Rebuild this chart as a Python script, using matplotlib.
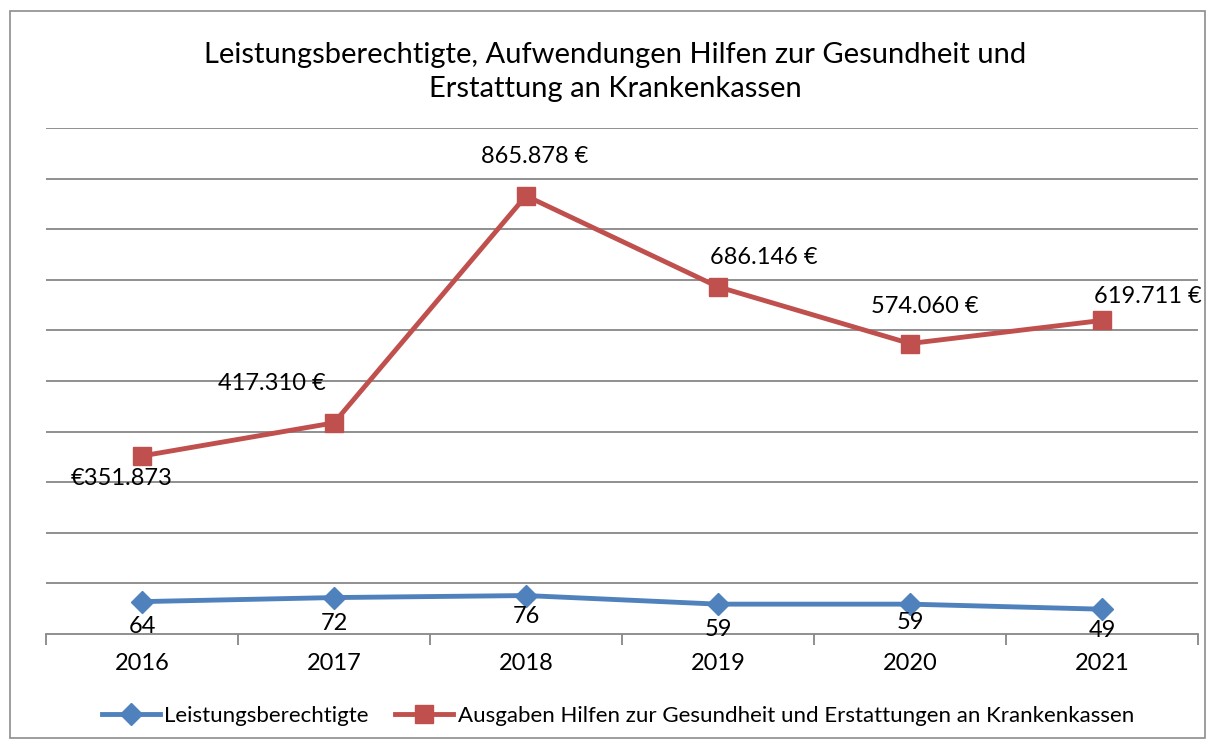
import numpy as np
import matplotlib.pyplot as plt

plt.rcParams['font.family'] = ['Lato', 'DejaVu Sans']

jahre = ["2016", "2017", "2018", "2019", "2020", "2021"]
berechtigte = [64, 72, 76, 59, 59, 49]
ausgaben = [351873, 417310, 865878, 686146, 574060, 619711]
ausgaben_labels = ["€351.873", "417.310 €", "865.878 €", "686.146 €", "574.060 €", "619.711 €"]

blau = "#4F81BD"
rot = "#C0504D"
grau = "#878787"

fig = plt.figure(figsize=(12.15, 7.47), dpi=100)
# Rahmen um das Diagramm
fig.patches.append(plt.Rectangle((10/1215, 1-738/747), 1195/1215, 727/747,
                                 transform=fig.transFigure, fill=False,
                                 edgecolor="#8c8c8c", linewidth=1.2))

ax = fig.add_axes([46/1215, 1-634/747, 1152/1215, 506/747])
ax2 = ax.twinx()
x = np.arange(len(jahre))

ax.set_xlim(-0.5, len(jahre) - 0.5)
ax.set_ylim(0, 1000000)
ax.set_yticks(np.arange(100000, 1000001, 100000))
ax.yaxis.grid(True, color=grau, linewidth=1.3)
ax.set_axisbelow(True)
ax.tick_params(axis="y", left=False, right=False, labelleft=False, labelright=False)
for s in ["top", "right", "left"]:
    ax.spines[s].set_visible(False)
ax.spines["bottom"].set_color(grau)
ax.spines["bottom"].set_linewidth(1.3)
ax.set_xticks(np.arange(-0.5, len(jahre), 1.0))
ax.set_xticklabels([])
ax.tick_params(axis="x", length=8, color=grau, width=1.3)
ax.set_xticks(x, minor=True)
ax.set_xticklabels(jahre, minor=True, fontsize=17)
ax.tick_params(axis="x", which="minor", length=0, pad=14)

ax2.set_ylim(0, 1000)
ax2.axis("off")

l1, = ax2.plot(x, berechtigte, color=blau, linewidth=3.5, marker="D", markersize=11,
               label="Leistungsberechtigte")
l2, = ax.plot(x, ausgaben, color=rot, linewidth=3.5, marker="s", markersize=13,
              label="Ausgaben Hilfen zur Gesundheit und Erstattungen an Krankenkassen")

# Datenbeschriftungen (Versatz in Punkten)
rot_off = [(-15, -16), (-45, 28), (6, 28), (33, 21), (11, 27), (33, 17)]
for i, (v, lab) in enumerate(zip(ausgaben, ausgaben_labels)):
    ax.annotate(lab, (x[i], v), xytext=rot_off[i], textcoords="offset points",
                ha="center", va="center", fontsize=17)
blau_off = [(0, -18), (0, -19), (0, -15), (0, -18), (0, -13), (0, -15)]
for i, v in enumerate(berechtigte):
    ax2.annotate(str(v), (x[i], v), xytext=blau_off[i], textcoords="offset points",
                 ha="center", va="center", fontsize=17)

fig.text(615/1215, 1-72/747,
         "Leistungsberechtigte, Aufwendungen Hilfen zur Gesundheit und\nErstattung an Krankenkassen",
         ha="center", va="center", fontsize=21, linespacing=1.35)

fig.legend(handles=[l1, l2], loc="center", bbox_to_anchor=(618/1215, 1-716/747),
           ncol=2, frameon=False, fontsize=16, handlelength=2.6, columnspacing=1.2,
           handletextpad=0.2)

fig.savefig("out.png", dpi=100)
